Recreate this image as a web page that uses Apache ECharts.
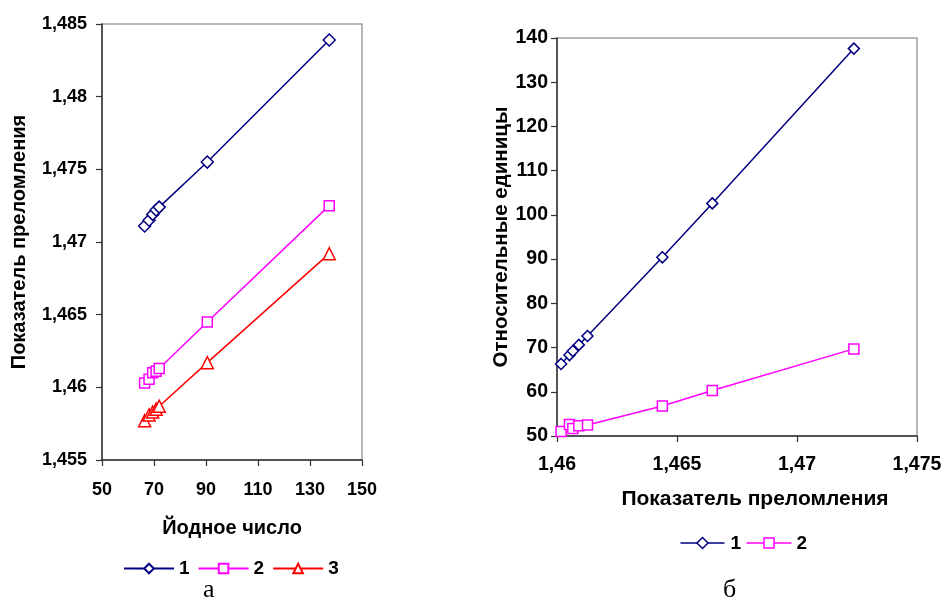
<!DOCTYPE html>
<html><head><meta charset="utf-8">
<script src="https://cdn.jsdelivr.net/npm/echarts@6/dist/echarts.min.js"></script>
<style>html,body{margin:0;padding:0;background:#fff}#c{width:951px;height:603px}</style>
</head><body><div id="c"></div>
<script>
// ---- Chart "а": refractive index vs iodine number ----
const iodineNumber = [66.4, 68.1, 69.5, 70.8, 72.0, 90.5, 137.4];
const leftSeries1 = [1.4711, 1.4715, 1.4719, 1.4722, 1.4724, 1.4755, 1.4839];
const leftSeries2 = [1.4603, 1.46055, 1.4610, 1.4611, 1.4613, 1.4645, 1.4725];
const leftSeries3 = [1.4577, 1.4581, 1.4583, 1.4585, 1.4587, 1.4617, 1.4692];
const leftXTicks = [50, 70, 90, 110, 130, 150];
const leftYTicks = [1.455, 1.46, 1.465, 1.47, 1.475, 1.48, 1.485];

// ---- Chart "б": relative units vs refractive index ----
const refrIndex = [1.46017, 1.46052, 1.46066, 1.46091, 1.46127, 1.46439, 1.46647, 1.47237];
const rightSeries1 = [66.3, 68.3, 69.2, 70.6, 72.6, 90.4, 102.6, 137.6];
const rightSeries2 = [51.0, 52.6, 51.7, 52.3, 52.5, 56.8, 60.3, 69.7];
const rightXTicks = [1.46, 1.465, 1.47, 1.475];
const rightYTicks = [50, 60, 70, 80, 90, 100, 110, 120, 130, 140];

const leftNames = ['1', '2', '3'];
const rightNames = ['1', '2'];

const NAVY = '#000080', MAG = '#FF00FF', RED = '#FF0000';
const FONT = '"Liberation Sans", Arial, sans-serif';
const fmt = v => String(+(+v).toFixed(4)).replace('.', ',');

function axisBase(labelSize, nameSize) {
  return {
    axisLine: {show: true, onZero: false, lineStyle: {color: '#333', width: 1.5}},
    axisTick: {show: true, inside: false, length: 6, lineStyle: {color: '#333', width: 1.2}},
    splitLine: {show: false},
    axisLabel: {color: '#000', fontFamily: FONT, fontWeight: 'bold', fontSize: labelSize, formatter: fmt},
    nameTextStyle: {color: '#000', fontFamily: FONT, fontWeight: 'bold', fontSize: nameSize}
  };
}
function zip(xs, ys) { return xs.map((x, i) => [x, ys[i]]); }
function lineSeries(name, color, symbol, size, xi, yi, data) {
  return {
    type: 'line', name: name, xAxisIndex: xi, yAxisIndex: yi,
    data: data, color: color, symbol: symbol, symbolSize: size,
    lineStyle: {color: color, width: 1.5},
    itemStyle: {color: '#fff', borderColor: color, borderWidth: 1.5},
    emphasis: {disabled: true}, animation: false, z: 3
  };
}

const chart = echarts.init(document.getElementById('c'), null, {renderer: 'canvas'});
const lx = Object.assign(axisBase(18, 20), {
  gridIndex: 0, type: 'value', min: leftXTicks[0], max: leftXTicks[leftXTicks.length - 1], interval: 20,
  name: 'Йодное число', nameLocation: 'middle', nameGap: 58
});
lx.axisLabel.margin = 21;
const ly = Object.assign(axisBase(18, 20), {
  gridIndex: 0, type: 'value', min: leftYTicks[0], max: leftYTicks[leftYTicks.length - 1], interval: 0.005,
  name: 'Показатель преломления', nameLocation: 'middle', nameGap: 73
});
ly.axisLabel.margin = 15;
const rx = Object.assign(axisBase(19.5, 21), {
  gridIndex: 1, type: 'value', min: rightXTicks[0], max: rightXTicks[rightXTicks.length - 1], interval: 0.005,
  name: 'Показатель преломления', nameLocation: 'middle', nameGap: 53
});
rx.nameTextStyle.padding = [0, 0, 0, 36];
rx.axisLabel.margin = 19;
const ry = Object.assign(axisBase(19.5, 20.5), {
  gridIndex: 1, type: 'value', min: rightYTicks[0], max: rightYTicks[rightYTicks.length - 1], interval: 10,
  name: 'Относительные единицы', nameLocation: 'middle', nameGap: 41
});
ry.axisLabel.margin = 9;

chart.setOption({
  backgroundColor: '#fff',
  animation: false,
  grid: [
    {left: 102, top: 24, width: 260, height: 436, show: true, borderColor: '#a0a0a0', borderWidth: 1.5, backgroundColor: 'transparent'},
    {left: 557, top: 38, width: 360, height: 398, show: true, borderColor: '#a0a0a0', borderWidth: 1.5, backgroundColor: 'transparent'}
  ],
  xAxis: [lx, rx],
  yAxis: [ly, ry],
  legend: [
    {data: leftNames.map(n => ({name: n})), left: 118, top: 554, itemWidth: 50, itemHeight: 12, itemGap: 8,
     textStyle: {fontFamily: FONT, fontWeight: 'bold', fontSize: 19, color: '#000'}, selectedMode: false}
  ],
  series: [
    lineSeries(leftNames[0], NAVY, 'diamond', 12, 0, 0, zip(iodineNumber, leftSeries1)),
    lineSeries(leftNames[1], MAG, 'rect', 10, 0, 0, zip(iodineNumber, leftSeries2)),
    lineSeries(leftNames[2], RED, 'triangle', 12, 0, 0, zip(iodineNumber, leftSeries3)),
    lineSeries('r' + rightNames[0], NAVY, 'diamond', 11, 1, 1, zip(refrIndex, rightSeries1)),
    lineSeries('r' + rightNames[1], MAG, 'rect', 10, 1, 1, zip(refrIndex, rightSeries2))
  ],
  graphic: [
    {type: 'text', left: 203, top: 577, style: {text: 'а', font: '26px "Liberation Serif", serif', fill: '#000'}},
    {type: 'text', left: 723, top: 577, style: {text: 'б', font: '26px "Liberation Serif", serif', fill: '#000'}},
    {type: 'group', left: 678, top: 534, children: [
      {type: 'line', shape: {x1: 0, y1: 9, x2: 44, y2: 9}, style: {stroke: NAVY, lineWidth: 1.5}},
      {type: 'polygon', shape: {points: [[22, 3.5], [27.5, 9], [22, 14.5], [16.5, 9]]}, style: {fill: '#fff', stroke: NAVY, lineWidth: 1.5}},
      {type: 'text', x: 50, y: 0, style: {text: rightNames[0], font: 'bold 19px ' + FONT, fill: '#000'}},
      {type: 'line', shape: {x1: 66, y1: 9, x2: 111, y2: 9}, style: {stroke: MAG, lineWidth: 1.5}},
      {type: 'rect', shape: {x: 83.5, y: 4, width: 10, height: 10}, style: {fill: '#fff', stroke: MAG, lineWidth: 1.5}},
      {type: 'text', x: 116, y: 0, style: {text: rightNames[1], font: 'bold 19px ' + FONT, fill: '#000'}}
    ]}
  ]
});
</script>
</body></html>
